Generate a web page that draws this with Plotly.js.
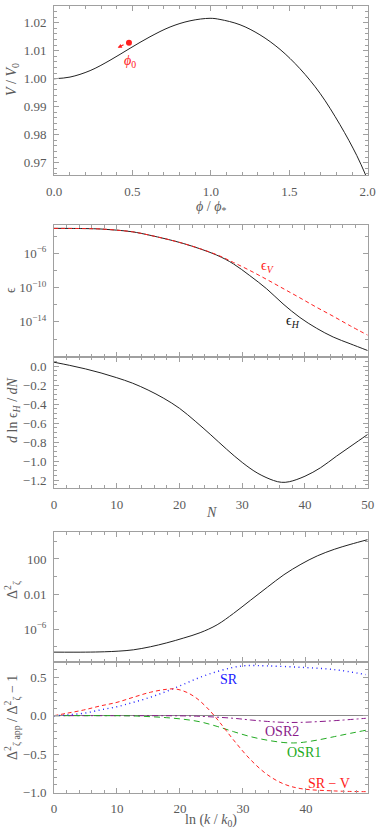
<!DOCTYPE html>
<html>
<head>
<meta charset="utf-8">
<script src="https://cdn.plot.ly/plotly-3.0.1.min.js"></script>
<style>html,body{margin:0;padding:0;background:#fff;}#plot{width:382px;height:828px;}</style>
</head>
<body>
<div id="plot"></div>
<script>
// Panel 1: potential
var phiVals = [0, 0.102, 0.23, 0.357, 0.485, 0.612, 0.74, 0.867, 0.995, 1.058, 1.186, 1.313, 1.441, 1.568, 1.696, 1.823, 1.93, 1.99];
var vOverV0 = [1.0000, 1.0006, 1.0029, 1.0066, 1.0109, 1.0150, 1.0185, 1.0207, 1.0216, 1.0212, 1.0193, 1.0157, 1.0105, 1.0036, 0.9948, 0.9836, 0.9726, 0.9652];
var phi0Point = [0.478, 1.0129];
var phi0ArrowHead = [0.406, 1.0111];
var phi0ArrowTail = [0.453, 1.0124];

// Panel 2: epsilon
var nEps = [0, 5, 7.5, 10, 12.5, 15.3, 20.6, 25.9, 28.6, 31.2, 33.9, 36.5, 39.2, 41.85, 44.5, 47.2, 50];
var epsH = [8.1e-4, 7.6e-4, 6.8e-4, 5.0e-4, 3.2e-4, 1.26e-4, 1.4e-5, 6.3e-7, 5.8e-8, 2.5e-9, 7.1e-11, 1.26e-12, 3.2e-14, 1.8e-15, 1.7e-16, 2.8e-17, 4.5e-18];
var epsV = [8.1e-4, 7.6e-4, 6.8e-4, 5.0e-4, 3.2e-4, 1.26e-4, 1.4e-5, 7.0e-7, 8.5e-8, 1.0e-8, 8.9e-10, 7.9e-11, 6.3e-12, 5.0e-13, 4.5e-14, 3.5e-15, 2.8e-16];

// Panel 3: d ln eps_H / dN
var nDer = [0, 2.5, 5, 7.5, 10, 12.5, 15, 17.5, 20, 22.5, 25, 27.5, 30, 32.5, 35, 36.25, 37.5, 40, 42.5, 45, 47.5, 50];
var dlnEpsH = [0.04, 0.007, -0.03, -0.073, -0.123, -0.18, -0.253, -0.34, -0.445, -0.58, -0.725, -0.875, -1.015, -1.13, -1.205, -1.224, -1.218, -1.16, -1.07, -0.95, -0.835, -0.72];

// Panel 4: power spectrum
var lnK = [0, 5, 8, 10.3, 12.6, 15.3, 17.9, 20.6, 23.2, 25.9, 28.5, 31.2, 33.9, 36.5, 39.2, 41.8, 44.5, 47, 49.8];
var deltaZeta2 = [2.45e-9, 2.45e-9, 2.7e-9, 3.2e-9, 4.5e-9, 1.0e-8, 2.8e-8, 1.0e-7, 4.0e-7, 3.2e-6, 6.3e-5, 2.0e-3, 6.3e-2, 1.6, 25, 224, 1260, 4470, 15800];

// Panel 5: relative errors
var lnKSR = [0, 2, 4.7, 7.3, 10, 12.6, 15.3, 17.9, 20.6, 23.2, 25.9, 28.5, 30.5, 33.9, 39.2, 44.5, 49.5];
var errSR = [0, 0.01, 0.031, 0.074, 0.117, 0.174, 0.24, 0.318, 0.41, 0.50, 0.575, 0.63, 0.652, 0.648, 0.63, 0.6, 0.535];
var lnKSRV = [0, 2, 4.7, 7.3, 10, 12.6, 15.3, 17.9, 19.3, 21.1, 22.7, 24.3, 25.4, 26.4, 28.5, 31.2, 33.9, 36.5, 39.2, 44.5, 49.5];
var errSRV = [0, 0.031, 0.074, 0.126, 0.174, 0.24, 0.305, 0.344, 0.348, 0.303, 0.223, 0.103, 0.004, -0.096, -0.316, -0.573, -0.77, -0.89, -0.95, -0.98, -0.99];
var lnKOSR1 = [0, 10, 12.6, 15.3, 17.9, 20.6, 23.2, 25.9, 28.5, 31.2, 33.9, 36.5, 38, 39.2, 41.8, 44.5, 47.1, 49.5];
var errOSR1 = [0, 0, -0.003, -0.013, -0.026, -0.047, -0.08, -0.14, -0.208, -0.273, -0.32, -0.35, -0.355, -0.35, -0.318, -0.273, -0.229, -0.19];
var lnKOSR2 = [0, 10, 20, 23.2, 28.5, 31.2, 33.9, 36.5, 39.2, 44.5, 49.5];
var errOSR2 = [0, 0, -0.002, -0.008, -0.034, -0.056, -0.075, -0.087, -0.087, -0.065, -0.034];

var FONT = 'Liberation Serif';
var FRAME = '#a0a0a0';
var TXT = '#5a5a5a';

function ax(extra) {
  var base = {
    showline: true, linecolor: FRAME, linewidth: 1, mirror: 'ticks',
    ticks: 'inside', ticklen: 5, tickcolor: FRAME, tickwidth: 1,
    showgrid: false, zeroline: false, ticklabelstandoff: 4,
    tickfont: {family: FONT, size: 13, color: TXT}
  };
  for (var k in extra) base[k] = extra[k];
  return base;
}
function mn(extra) {
  var m = {ticks: 'inside', ticklen: 3, tickcolor: FRAME, showgrid: false};
  for (var k in extra) m[k] = extra[k];
  return m;
}

var XD = [54/382, 367.7/382];
function dom(top, bottom) { return [1 - bottom/828, 1 - top/828]; }

var traces = [
  {x: phiVals, y: vOverV0, xaxis: 'x', yaxis: 'y', mode: 'lines', line: {color: '#222', width: 1, shape: 'spline'}},
  {x: [phi0Point[0]], y: [phi0Point[1]], xaxis: 'x', yaxis: 'y', mode: 'markers', marker: {color: '#ff2020', size: 6}},
  {x: nEps, y: epsH, xaxis: 'x2', yaxis: 'y2', mode: 'lines', line: {color: '#222', width: 1, shape: 'spline'}},
  {x: nEps, y: epsV, xaxis: 'x2', yaxis: 'y2', mode: 'lines', line: {color: '#ff2020', width: 1, dash: '4px,3px', shape: 'spline'}},
  {x: nDer, y: dlnEpsH, xaxis: 'x3', yaxis: 'y3', mode: 'lines', line: {color: '#222', width: 1, shape: 'spline'}},
  {x: lnK, y: deltaZeta2, xaxis: 'x4', yaxis: 'y4', mode: 'lines', line: {color: '#222', width: 1, shape: 'spline'}},
  {x: lnKOSR2, y: errOSR2, xaxis: 'x5', yaxis: 'y5', mode: 'lines', line: {color: '#8a1a8a', width: 1, dash: '6px,3px,2px,3px', shape: 'spline'}},
  {x: lnKOSR1, y: errOSR1, xaxis: 'x5', yaxis: 'y5', mode: 'lines', line: {color: '#22aa22', width: 1, dash: '6px,4px', shape: 'spline'}},
  {x: lnKSR, y: errSR, xaxis: 'x5', yaxis: 'y5', mode: 'lines', line: {color: '#2020ff', width: 1.4, dash: '1px,3.5px', shape: 'spline'}},
  {x: lnKSRV, y: errSRV, xaxis: 'x5', yaxis: 'y5', mode: 'lines', line: {color: '#ff2020', width: 1, dash: '4px,3px', shape: 'spline'}}
];

function t(text, x, y, size, color, angle, xref, yref) {
  return {text: text, x: x, y: y, xref: xref || 'paper', yref: yref || 'paper', showarrow: false,
          textangle: angle || 0, font: {family: FONT, size: size, color: color}, xanchor: 'center', yanchor: 'middle'};
}

var annotations = [
  t('<i>V</i> / <i>V</i><sub>0</sub>', 13/382, 1 - 80/828, 14, TXT, -90),
  t('<i>ϕ</i> / <i>ϕ</i><sub>*</sub>', 211/382, 1 - 207/828, 14, TXT),
  t('ϵ', 10/382, 1 - 290/828, 14, TXT, -90),
  t('<i>d</i> ln ϵ<sub><i>H</i></sub> / <i>dN</i>', 13/382, 1 - 410/828, 14, TXT, -90),
  t('<i>N</i>', 211/382, 1 - 512/828, 14, TXT),
  t('Δ<sup>2</sup><sub>ζ</sub>', 12/382, 1 - 590/828, 14, TXT, -90),
  t('Δ<sup>2</sup><sub>ζ app</sub> / Δ<sup>2</sup><sub>ζ</sub> − 1', 12/382, 1 - 718/828, 14, TXT, -90),
  t('ln (<i>k</i> / <i>k</i><sub>0</sub>)', 211/382, 1 - 820/828, 14, TXT),
  t('<i>ϕ</i><sub>0</sub>', 0.4845, 1.0061, 14, '#ff2020', 0, 'x', 'y'),
  t('ϵ<sub><i>V</i></sub>', 34.1, Math.log10(2.8e-8), 14, '#ff2020', 0, 'x2', 'y2'),
  t('ϵ<sub><i>H</i></sub>', 38.1, -14.0, 14, '#111', 0, 'x2', 'y2'),
  t('SR', 27.75, 0.474, 14, '#2020ff', 0, 'x5', 'y5'),
  t('OSR2', 36.26, -0.208, 14, '#8a1a8a', 0, 'x5', 'y5'),
  t('OSR1', 39.7, -0.482, 14, '#22aa22', 0, 'x5', 'y5'),
  t('SR − V', 43.68, -0.883, 14, '#ff2020', 0, 'x5', 'y5'),
  {x: phi0ArrowHead[0], y: phi0ArrowHead[1], ax: phi0ArrowTail[0], ay: phi0ArrowTail[1],
   xref: 'x', yref: 'y', axref: 'x', ayref: 'y', text: '', showarrow: true,
   arrowhead: 2, arrowsize: 0.7, arrowwidth: 1.2, arrowcolor: '#ff2020'}
];

var layout = {
  width: 382, height: 828, margin: {l: 0, r: 0, t: 0, b: 0},
  paper_bgcolor: '#fff', plot_bgcolor: '#fff', showlegend: false,
  font: {family: FONT, color: TXT},
  xaxis: ax({domain: XD, anchor: 'y', range: [0, 2], dtick: 0.5, tickformat: '.1f', minor: mn({dtick: 0.1})}),
  yaxis: ax({domain: dom(6, 175), anchor: 'x', range: [0.9656, 1.026], dtick: 0.01, tickformat: '.2f', minor: mn({dtick: 0.002})}),
  xaxis2: ax({domain: XD, anchor: 'y2', range: [0, 50], dtick: 10, showticklabels: false, minor: mn({dtick: 2})}),
  yaxis2: ax({domain: dom(225, 357), anchor: 'x2', type: 'log', range: [-18.1, -2.7],
    tickmode: 'array', tickvals: [1e-6, 1e-10, 1e-14], ticktext: ['10<sup>−6</sup>', '10<sup>−10</sup>', '10<sup>−14</sup>'],
    minor: mn({tickmode: 'array', tickvals: [1e-4, 1e-8, 1e-12, 1e-16, 1e-18]})}),
  xaxis3: ax({domain: XD, anchor: 'y3', range: [0, 50], dtick: 10, minor: mn({dtick: 2})}),
  yaxis3: ax({domain: dom(357, 488), anchor: 'x3', range: [-1.284, 0.095], dtick: 0.2, tickformat: '.1f', minor: mn({dtick: 0.05})}),
  xaxis4: ax({domain: XD, anchor: 'y4', range: [0, 49.8], dtick: 10, showticklabels: false, minor: mn({dtick: 2})}),
  yaxis4: ax({domain: dom(532, 661.7), anchor: 'x4', type: 'log', range: [-9.7, 5.07],
    tickmode: 'array', tickvals: [100, 0.01, 1e-6], ticktext: ['100', '0.01', '10<sup>−6</sup>'],
    minor: mn({tickmode: 'array', tickvals: [1e4, 1, 1e-4, 1e-8]})}),
  xaxis5: ax({domain: XD, anchor: 'y5', range: [0, 49.8], dtick: 10, minor: mn({dtick: 2})}),
  yaxis5: ax({domain: dom(661.7, 792.7), anchor: 'x5', range: [-1.003, 0.703], dtick: 0.5, tickformat: '.1f',
    zeroline: true, zerolinecolor: '#888', zerolinewidth: 1.5, minor: mn({dtick: 0.1})}),
  annotations: annotations
};

Plotly.newPlot('plot', traces, layout, {staticPlot: true, displayModeBar: false});
</script>
</body>
</html>
